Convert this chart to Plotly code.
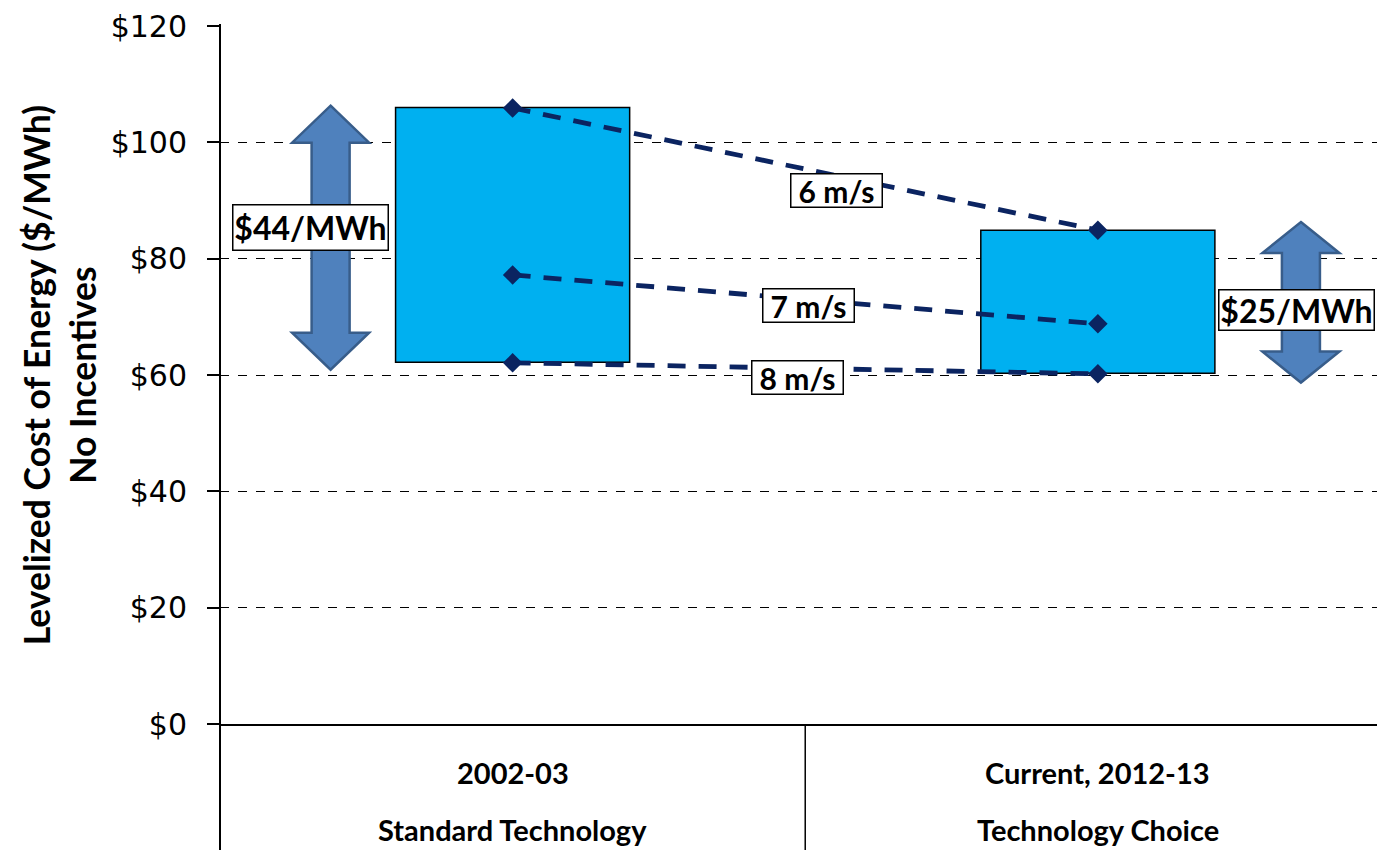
import plotly.graph_objects as go

# ---- data ----
categories = ["2002-03", "Current, 2012-13"]
category_sublabels = ["Standard Technology", "Technology Choice"]
range_low = [62.2, 60.3]      # bar bottoms ($/MWh)
range_high = [106.0, 84.9]    # bar tops ($/MWh)
wind_speeds = ["6 m/s", "7 m/s", "8 m/s"]
lcoe_6ms = [105.9, 84.9]
lcoe_7ms = [77.2, 68.8]
lcoe_8ms = [62.1, 60.2]
spread_labels = ["$44/MWh", "$25/MWh"]
y_ticks = [0, 20, 40, 60, 80, 100, 120]

xs = list(range(len(categories)))
BAR_COLOR = "#00B0F0"
LINE_COLOR = "#0B2461"
ARROW_FILL = "#4F81BD"
ARROW_EDGE = "#385D8A"
LABEL_FONT = "Lato"

fig = go.Figure()

# floating bars
fig.add_trace(go.Bar(
    x=xs, y=[h - l for h, l in zip(range_high, range_low)], base=range_low,
    width=0.4, marker=dict(color=BAR_COLOR, line=dict(color="black", width=1.5)),
    showlegend=False, hoverinfo="skip"))

# wind speed lines
for name, vals in zip(wind_speeds, [lcoe_6ms, lcoe_7ms, lcoe_8ms]):
    fig.add_trace(go.Scatter(
        x=xs, y=vals, mode="lines+markers", name=name,
        line=dict(color=LINE_COLOR, width=4.8, dash="18px,13px"),
        marker=dict(symbol="diamond", size=15, color=LINE_COLOR),
        showlegend=False))

# labels on lines
label_pos = [(0.553, -2.5), (0.505, -1.0), (0.486, -1.6)]
for name, vals, (fx, dy) in zip(wind_speeds, [lcoe_6ms, lcoe_7ms, lcoe_8ms], label_pos):
    yv = vals[0] + (vals[1] - vals[0]) * fx + dy
    fig.add_annotation(x=fx, y=yv, xref="x", yref="y", text="<b>" + name + "</b>",
                       showarrow=False, font=dict(family=LABEL_FONT, size=30, color="black"),
                       width=88, height=30, align="center", valign="middle",
                       bgcolor="white", bordercolor="black", borderwidth=1.5, borderpad=1)

# double-headed block arrows
px_per_x = 585.0
px_per_y = 698.0 / 120.0
arrow_offsets = [-0.311, 0.347]
arrow_pad_top = [0.3, 1.4]
arrow_pad_bottom = [1.3, 1.6]
head_px = [37, 31]
head_hw = 38.5 / px_per_x
shaft_hw = 19 / px_per_x
label_dx = [-0.035, -0.007]
label_dy = [1.2, -1.4]
for i, off in enumerate(arrow_offsets):
    cx = xs[i] + off
    yt = range_high[i] + arrow_pad_top[i]
    yb = range_low[i] - arrow_pad_bottom[i]
    head_h = head_px[i] / px_per_y
    pts = [(cx, yt), (cx + head_hw, yt - head_h), (cx + shaft_hw, yt - head_h),
           (cx + shaft_hw, yb + head_h), (cx + head_hw, yb + head_h), (cx, yb),
           (cx - head_hw, yb + head_h), (cx - shaft_hw, yb + head_h),
           (cx - shaft_hw, yt - head_h), (cx - head_hw, yt - head_h)]
    path = "M " + " L ".join(f"{x},{y}" for x, y in pts) + " Z"
    fig.add_shape(type="path", path=path, xref="x", yref="y",
                  fillcolor=ARROW_FILL, line=dict(color=ARROW_EDGE, width=2.5), layer="above")
    fig.add_annotation(x=cx + label_dx[i],
                       y=(range_high[i] + range_low[i]) / 2 + label_dy[i],
                       xref="x", yref="y",
                       text="<b>" + spread_labels[i] + "</b>", showarrow=False,
                       font=dict(family=LABEL_FONT, size=32, color="black"),
                       width=152, height=42 - 5 * i, align="center", valign="middle",
                       bgcolor="white", bordercolor="black", borderwidth=1.5, borderpad=1)

# category labels
for i in xs:
    fig.add_annotation(x=i, y=-0.0688, xref="x", yref="paper", yanchor="middle",
                       text="<b>" + categories[i] + "</b>",
                       showarrow=False, font=dict(family=LABEL_FONT, size=29, color="black"))
    fig.add_annotation(x=i, y=-0.151, xref="x", yref="paper", yanchor="middle",
                       text="<b>" + category_sublabels[i] + "</b>",
                       showarrow=False, font=dict(family=LABEL_FONT, size=29, color="black"))

# axis line extensions and category divider
fig.add_shape(type="line", xref="paper", yref="paper", x0=0, x1=0, y0=1.003, y1=-0.2,
              line=dict(color="black", width=2))
fig.add_shape(type="line", xref="x", yref="paper", x0=0.5, x1=0.5, y0=0, y1=-0.2,
              line=dict(color="black", width=1.5))

# y-axis title
fig.add_annotation(x=-0.139, y=0.5, xref="paper", yref="paper",
                   xanchor="center", yanchor="middle",
                   text="<b>Levelized Cost of Energy ($/MWh)<br>No Incentives</b>",
                   textangle=-90, showarrow=False,
                   font=dict(family=LABEL_FONT, size=35.5, color="black"))

fig.update_layout(
    width=1377, height=850,
    margin=dict(l=220, r=0, t=26, b=126),
    plot_bgcolor="white", paper_bgcolor="white",
    xaxis=dict(range=[-0.5, 1.477], showticklabels=False, showgrid=False, zeroline=False,
               showline=True, linecolor="black", linewidth=2, ticks=""),
    yaxis=dict(range=[0, 120], tickvals=y_ticks, ticktext=[f"${v}" for v in y_ticks],
               showgrid=True, gridcolor="black", griddash="dash", gridwidth=1.2,
               zeroline=False, showline=False, ticks="outside", ticklen=12,
               tickcolor="black", tickwidth=1.5, ticklabelstandoff=14,
               tickfont=dict(family="DejaVu Sans", size=30, color="black")),
    showlegend=False,
)

fig.write_html("out.html", config={"displayModeBar": False},
               post_script="document.body.style.margin='0';document.body.style.overflow='hidden';")
